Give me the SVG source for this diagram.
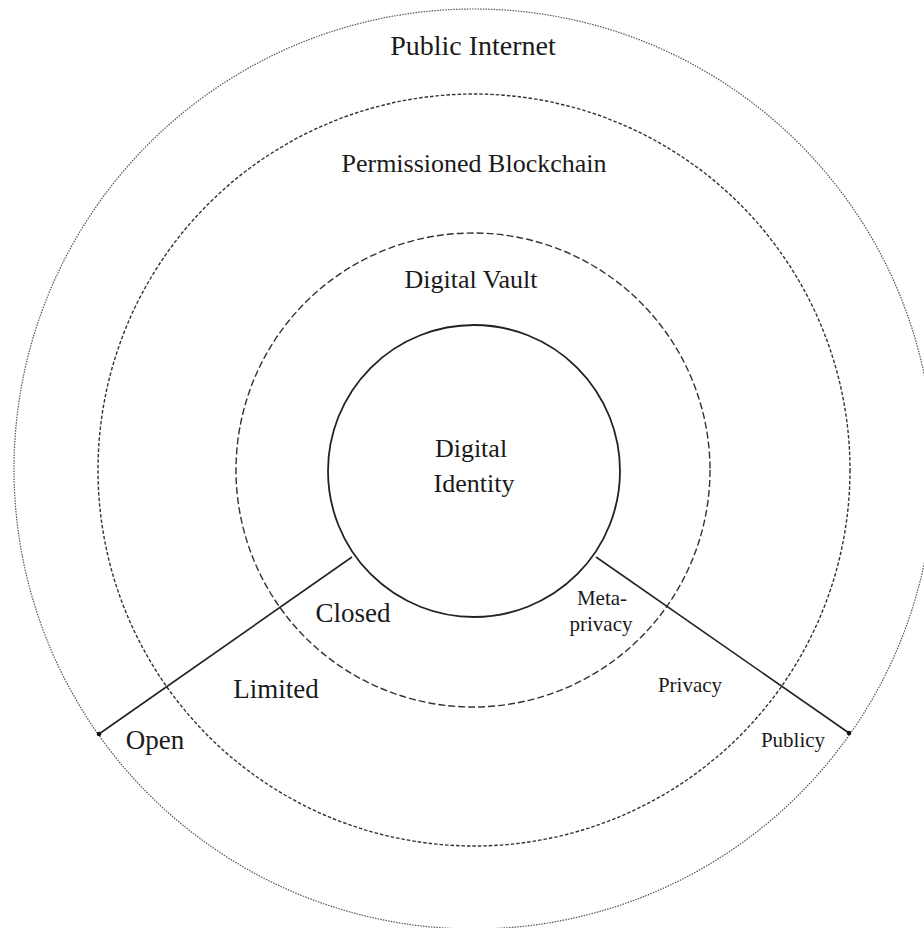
<svg xmlns="http://www.w3.org/2000/svg" width="924" height="928" viewBox="0 0 924 928">
  <style>
    .ring { fill: none; }
    .outer { stroke: #555; stroke-width: 1.2; stroke-dasharray: 1.5 1.2; }
    .chain { stroke: #333; stroke-width: 1.4; stroke-dasharray: 3.5 2; }
    .vault { stroke: #333; stroke-width: 1.4; stroke-dasharray: 7 3; }
    .core { stroke: #222; stroke-width: 1.8; }
    .link { stroke: #222; stroke-width: 1.6; fill: none; }
    .dot { fill: #111; }
    text { font-family: "Liberation Serif", "Times New Roman", serif; fill: #1a1a1a; text-anchor: middle; }
    .title { font-size: 28px; }
    .big { font-size: 26px; }
    .lg { font-size: 27px; }
    .sm { font-size: 21px; }
  </style>
  <rect width="924" height="928" fill="#ffffff"/>

  <g id="public-internet">
    <circle class="ring outer" cx="474" cy="469" r="460"/>
    <text class="title" x="473" y="55">Public Internet</text>
  </g>

  <g id="permissioned-blockchain">
    <circle class="ring chain" cx="474" cy="470" r="376"/>
    <text class="big" x="474" y="172">Permissioned Blockchain</text>
  </g>

  <g id="digital-vault">
    <circle class="ring vault" cx="473" cy="470" r="237"/>
    <text class="big" x="471" y="288">Digital Vault</text>
  </g>

  <g id="digital-identity">
    <circle class="ring core" cx="474" cy="471" r="146"/>
    <text class="big" x="471" y="457">Digital</text>
    <text class="big" x="474" y="492">Identity</text>
  </g>

  <g id="connectors">
    <line class="link" x1="352" y1="557" x2="99" y2="734"/>
    <line class="link" x1="596" y1="557" x2="849" y2="733"/>
    <circle class="dot" cx="99" cy="734" r="2.3"/>
    <circle class="dot" cx="849" cy="733" r="2.3"/>
  </g>

  <g id="openness-labels">
    <text class="lg" x="353" y="622">Closed</text>
    <text class="lg" x="276" y="698">Limited</text>
    <text class="lg" x="155" y="749">Open</text>
  </g>

  <g id="privacy-labels">
    <text class="sm" x="602" y="605">Meta-</text>
    <text class="sm" x="601" y="631">privacy</text>
    <text class="sm" x="690" y="692">Privacy</text>
    <text class="sm" x="793" y="747">Publicy</text>
  </g>
</svg>
